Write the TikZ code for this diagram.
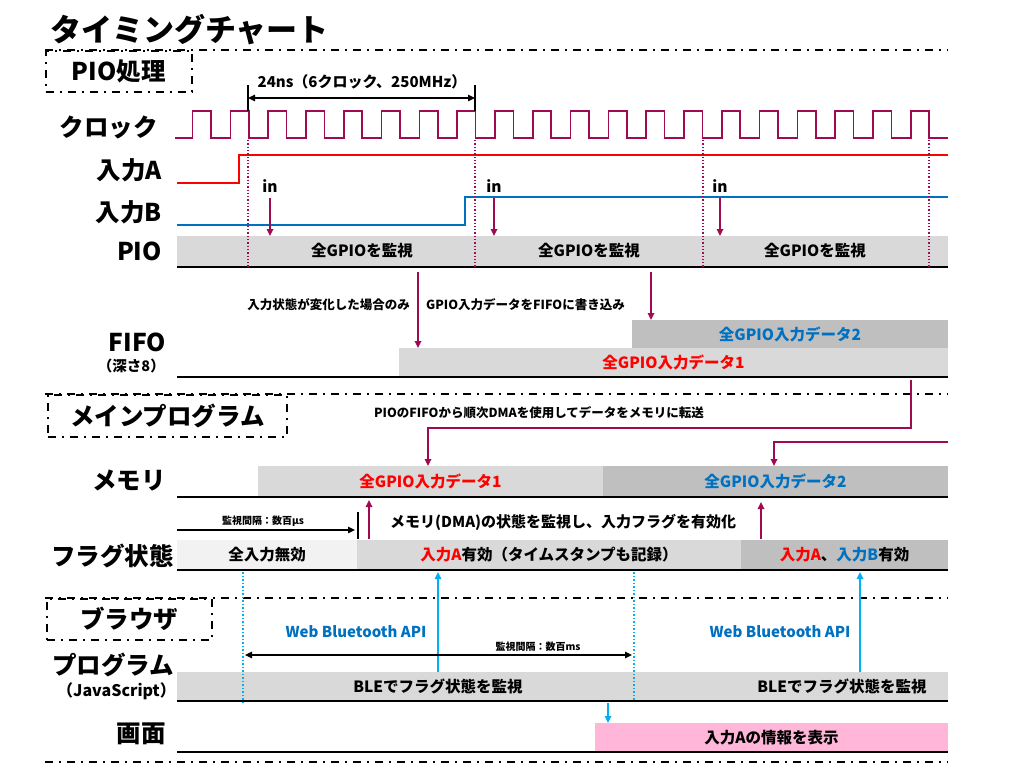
\documentclass[tikz,border=0pt]{standalone}
\usepackage{fontspec}
\setmainfont{Noto Sans CJK JP}
\usetikzlibrary{arrows.meta}

\definecolor{clkc}{RGB}{160,10,80}
\definecolor{bluec}{RGB}{0,112,192}
\definecolor{cyanc}{RGB}{0,176,240}
\definecolor{grayA}{RGB}{217,217,217}
\definecolor{grayB}{RGB}{191,191,191}
\definecolor{grayC}{RGB}{242,242,242}
\definecolor{pinkc}{RGB}{255,182,216}

\begin{document}
\begin{tikzpicture}[x=1pt,y=-1pt,
  title/.style={anchor=west,inner sep=0pt,font=\bfseries\fontsize{31}{33}\selectfont},
  lbl/.style={anchor=east,inner sep=0pt,font=\bfseries\fontsize{24.5}{26}\selectfont},
  sublbl/.style={anchor=east,inner sep=0pt,font=\bfseries\fontsize{14.5}{16}\selectfont},
  secline/.style={line width=1.6pt,dash pattern=on 8pt off 6pt on 2pt off 6pt},
  secbox/.style={draw,secline,anchor=north west,inner sep=0pt,font=\bfseries\fontsize{24.5}{26}\selectfont},
  bar/.style={anchor=north west,inner sep=0pt,outer sep=0pt,font=\bfseries\fontsize{15.5}{17}\selectfont},
  txt/.style={inner sep=0pt,font=\bfseries\fontsize{15.5}{17}\selectfont},
  note/.style={inner sep=0pt,font=\bfseries\fontsize{12.5}{14}\selectfont},
  tiny/.style={inner sep=0pt,font=\bfseries\fontsize{10}{11}\selectfont},
  api/.style={inner sep=0pt,text=bluec,font=\bfseries\fontsize{15}{17}\selectfont},
  clk/.style={draw=clkc,line width=1.6pt},
  guide/.style={draw=clkc,dotted,line width=1.3pt},
  cdot/.style={draw=cyanc,dotted,line width=1.5pt},
  base/.style={line width=2pt},
  parr/.style={draw=clkc,line width=1.6pt,-{Triangle[length=7pt,width=6.5pt]}},
  carr/.style={draw=cyanc,line width=1.6pt,-{Triangle[length=7pt,width=6.5pt]}},
  karr/.style={line width=1.4pt,-{Triangle[length=7pt,width=6.5pt]}},
  karr2/.style={line width=1.4pt,{Triangle[length=7pt,width=6.5pt]}-{Triangle[length=7pt,width=6.5pt]}}
]
\path[use as bounding box] (0,0) rectangle (1024,766);

% title and sections
\node[title] (ttl) at (50,30) {タイミングチャート};
\foreach \y in {50,394,598,762}
  \draw[secline] (45,\y) -- (948,\y);
\node[secbox,minimum width=146,minimum height=41] (spio) at (45,50) {PIO処理};
\node[secbox,minimum width=239,minimum height=42] (smain) at (47,394) {メインプログラム};
\node[secbox,minimum width=165,minimum height=41] (sbrw) at (46,598) {ブラウザ};

% row labels
\node[lbl] (lclk) at (158,127) {クロック};
\node[lbl] (lina) at (162,170) {入力A};
\node[lbl] (linb) at (162,212) {入力B};
\node[lbl] (lpio) at (162,251) {PIO};
\node[lbl] (lfifo) at (166,342) {FIFO};
\node[sublbl] (ldep) at (165,366) {（深さ8）};
\node[lbl] (lmem) at (166,480) {メモリ};
\node[lbl] (lflag) at (174,556) {フラグ状態};
\node[lbl] (lprog) at (174,665) {プログラム};
\node[sublbl,font=\bfseries\fontsize{16}{18}\selectfont] (ljs) at (176,691) {（JavaScript）};
\node[lbl] (lscr) at (166,734) {画面};

% clock and inputs
\draw[clk] (175,138) foreach \k in {0,...,19} {
  -- ({192.5+37.8*\k},138) -- ++(0,-27) -- ++(18.4,0) -- ++(0,27) } -- (948,138);
\draw[red,line width=1.6pt] (177,183) -- (239,183) -- (239,155) -- (948,155);
\draw[bluec,line width=1.6pt] (177,225) -- (465,225) -- (465,197) -- (948,197);

% 6 clock span
\draw[line width=1.4pt] (248,85) -- (248,111);
\draw[line width=1.4pt] (475,85) -- (475,111);
\coordinate (c0) at (248,98);
\coordinate (c6) at (475,98);
\draw[karr2] (c0) -- (c6);
\node[txt,font=\bfseries\fontsize{15}{17}\selectfont] (span) at (362,82) {24ns（6クロック、250MHz）};

% PIO
\node[bar,fill=grayA,minimum width=771,minimum height=31] (pio) at (177,236) {};
\draw[base] (177,267) -- (948,267);
\node[txt] (pt1) at (362,251) {全GPIOを監視};
\node[txt] (pt2) at (589,251) {全GPIOを監視};
\node[txt] (pt3) at (815,251) {全GPIOを監視};
\foreach \x in {248,475,703,929}
  \draw[guide] (\x,140) -- (\x,268);
\foreach \x/\n in {270/1,494/2,720/3} {
  \node[txt,inner sep=5pt] (in\n) at (\x,186) {in};
  \draw[parr] (in\n.south) -- (in\n.south |- pio.north);
}

% FIFO
\node[bar,fill=grayB,minimum width=316,minimum height=28,text=bluec] (fifo2) at (632,320) {全GPIO入力データ2};
\node[bar,fill=grayA,minimum width=549,minimum height=29,text=red] (fifo1) at (399,348) {全GPIO入力データ1};
\draw[base] (177,377) -- (948,377);
\coordinate (w1) at (418,272);
\coordinate (w2) at (651,272);
\draw[parr] (w1) -- (w1 |- fifo1.north);
\draw[parr] (w2) -- (w2 |- fifo2.north);
\node[note,anchor=east] (n1) at (410,305) {入力状態が変化した場合のみ};
\node[note,anchor=west] (n2) at (426,305) {GPIO入力データをFIFOに書き込み};

% memory
\node[bar,fill=grayA,minimum width=345,minimum height=31,text=red] (mem1) at (258,466) {全GPIO入力データ1};
\node[bar,fill=grayB,minimum width=345,minimum height=31,text=bluec] (mem2) at (603,466) {全GPIO入力データ2};
\draw[base] (177,497) -- (948,497);
\node[note] (n3) at (539,413) {PIOのFIFOから順次DMAを使用してデータをメモリに転送};
\coordinate (d1) at (911,380);
\coordinate (d1t) at (428,428);
\coordinate (d2) at (948,442);
\coordinate (d2t) at (774,442);
\draw[parr] (d1) |- (d1t) -- (d1t |- mem1.north);
\draw[parr] (d2) -- (d2t) -- (d2t |- mem2.north);

% flags
\node[bar,fill=grayC,minimum width=180,minimum height=30] (fl0) at (177,540) {全入力無効};
\node[bar,fill=grayA,minimum width=384,minimum height=30] (fl1) at (357,540) {{\color{red}入力A}有効（タイムスタンプも記録）};
\node[bar,fill=grayB,minimum width=207,minimum height=30] (fl2) at (741,540) {{\color{red}入力A}、{\color{bluec}入力B}有効};
\draw[base] (177,570) -- (948,570);
\draw[line width=1.6pt] (358,512) -- (358,539);
\coordinate (u0) at (177,530);
\coordinate (u1) at (355,530);
\draw[karr] (u0) -- (u1);
\node[tiny] (us) at (263,521) {監視間隔：数百μs};
\coordinate (f1) at (369,539);
\coordinate (f2) at (761,539);
\draw[parr,shorten >=3pt] (f1) -- (f1 |- mem1.south);
\draw[parr,shorten >=5pt] (f2) -- (f2 |- mem2.south);
\node[txt,font=\bfseries\fontsize{15}{17}\selectfont,anchor=west] (n4) at (390,522) {メモリ(DMA)の状態を監視し、入力フラグを有効化};

% browser program
\node[bar,fill=grayA,minimum width=771,minimum height=29] (prog) at (177,672) {};
\draw[base] (177,701) -- (948,701);
\node[txt] (pg1) at (438,686) {BLEでフラグ状態を監視};
\node[txt] (pg2) at (842,686) {BLEでフラグ状態を監視};
\draw[cdot] (243,572) -- (243,702);
\draw[cdot] (634,572) -- (634,701);
\coordinate (b1) at (438,672);
\coordinate (b2) at (860,672);
\draw[carr,shorten >=2pt] (b1) -- (b1 |- fl1.south);
\draw[carr,shorten >=2pt] (b2) -- (b2 |- fl2.south);
\node[api] (api1) at (356,632) {Web Bluetooth API};
\node[api] (api2) at (780,632) {Web Bluetooth API};
\coordinate (m0) at (245,655);
\coordinate (m1) at (632,655);
\draw[karr2] (m0) -- (m1);
\node[tiny] (ms) at (538,647) {監視間隔：数百ms};

% screen
\node[bar,fill=pinkc,minimum width=353,minimum height=29] (scr) at (595,723) {入力Aの情報を表示};
\draw[base] (177,752) -- (948,752);
\coordinate (s0) at (608,703);
\draw[carr] (s0) -- (s0 |- scr.north);
\end{tikzpicture}
\end{document}
